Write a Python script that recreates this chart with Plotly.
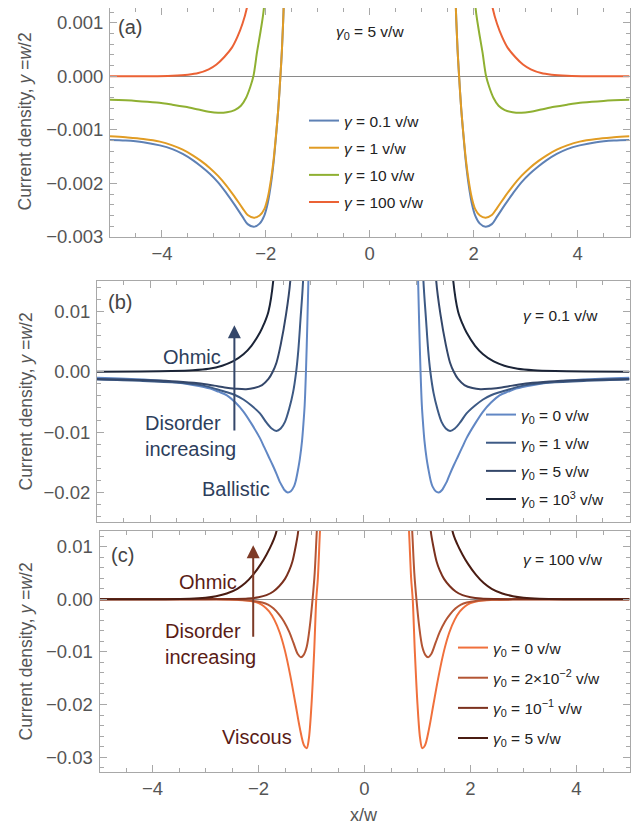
import plotly.graph_objects as go

# The page body adds an 8 px margin; the figure is sized so that it fills the 642x831 window.
PAGE_OFF = 8
W, H = 642 - PAGE_OFF, 831 - PAGE_OFF

# ---------------- Panel (a): gamma0 = 5 v/w (right half, curves are symmetric in x) ----------
a_names = ["<i>γ</i> = 0.1 v/w", "<i>γ</i> = 1 v/w", "<i>γ</i> = 10 v/w", "<i>γ</i> = 100 v/w"]
a_colors = ["#5e81b5", "#e19c24", "#8fb032", "#eb6235"]
a_x_g01 = [1.62, 1.66, 1.69, 1.72, 1.76, 1.80, 1.85, 1.90, 1.96, 2.03, 2.12, 2.23, 2.35, 2.45,
           2.60, 2.76, 2.92, 3.08, 3.25, 3.40, 3.60, 3.80, 4.04, 4.36, 4.70, 5.00]
a_y_g01 = [0.0025, 0.0012, 0.0005, 0.0, -0.0006, -0.00107, -0.0016, -0.0020, -0.00235, -0.0026,
           -0.00275, -0.00281, -0.00276, -0.00262, -0.00240, -0.00218, -0.00198, -0.00182,
           -0.00168, -0.00157, -0.00145, -0.00136, -0.00129, -0.00123, -0.00120, -0.00119]
a_x_g1 = [1.62, 1.66, 1.69, 1.72, 1.76, 1.80, 1.85, 1.90, 1.96, 2.03, 2.12, 2.23, 2.35, 2.45,
          2.60, 2.76, 2.92, 3.08, 3.25, 3.40, 3.60, 3.80, 4.04, 4.36, 4.70, 5.00]
a_y_g1 = [0.0025, 0.0012, 0.0005, 0.0, -0.0006, -0.00105, -0.00155, -0.00192, -0.00225, -0.00248,
          -0.00260, -0.00264, -0.00259, -0.00246, -0.00225, -0.00204, -0.00186, -0.00171,
          -0.00158, -0.00148, -0.00137, -0.00129, -0.00122, -0.00117, -0.00114, -0.00112]
a_x_g10 = [1.98, 2.04, 2.10, 2.17, 2.24, 2.30, 2.38, 2.48, 2.60, 2.75, 2.92, 3.10, 3.30, 3.55,
           3.80, 4.10, 4.50, 5.00]
a_y_g10 = [0.0022, 0.00125, 0.00085, 0.00045, 0.0, -0.0002, -0.0004, -0.00055, -0.00063, -0.00067,
           -0.00068, -0.00066, -0.00062, -0.00057, -0.00053, -0.00049, -0.00046, -0.00044]
a_x_g100 = [2.30, 2.36, 2.45, 2.55, 2.65, 2.80, 2.95, 3.10, 3.30, 3.50, 3.80, 4.20, 5.00]
a_y_g100 = [0.0017, 0.0013, 0.00098, 0.00073, 0.00054, 0.00036, 0.00022, 0.00013, 0.00006,
            0.00003, 0.00001, 0.0, 0.0]

# ---------------- Panel (b): gamma = 0.1 v/w --------------------------------------------------
b_names = ["<i>γ</i><sub>0</sub> = 0 v/w", "<i>γ</i><sub>0</sub> = 1 v/w",
           "<i>γ</i><sub>0</sub> = 5 v/w", "<i>γ</i><sub>0</sub> = 10<sup>3</sup> v/w"]
b_colors = ["#6187c4", "#3d5a85", "#34476a", "#1b2437"]
b_x_g0 = [1.00, 1.03, 1.05, 1.076, 1.10, 1.125, 1.15, 1.19, 1.22, 1.27, 1.30, 1.36, 1.42, 1.48,
          1.52, 1.57, 1.625, 1.70, 1.78, 1.86, 1.94, 2.10, 2.25, 2.40, 2.56, 2.72, 2.87, 3.2,
          3.5, 4.12, 5.0]
b_y_g0 = [0.025, 0.0151, 0.008, 0.0, -0.0055, -0.0088, -0.0115, -0.0144, -0.0160, -0.0182,
          -0.0190, -0.0198, -0.0200, -0.0196, -0.0190, -0.0182, -0.0170, -0.0155, -0.0140,
          -0.0125, -0.0110, -0.0086, -0.0066, -0.0051, -0.0039, -0.0033, -0.0028, -0.0022,
          -0.0018, -0.0013, -0.0010]
b_x_g1 = [1.10, 1.13, 1.18, 1.22, 1.26, 1.32, 1.39, 1.47, 1.55, 1.63, 1.72, 1.82, 1.94, 2.10,
          2.25, 2.40, 2.56, 2.75, 3.0, 3.5, 4.2, 5.0]
b_y_g1 = [0.025, 0.0151, 0.0085, 0.0035, 0.0, -0.0035, -0.0061, -0.0083, -0.0094, -0.0098,
          -0.0094, -0.0084, -0.0069, -0.0056, -0.0046, -0.0039, -0.0034, -0.0029, -0.0023,
          -0.0018, -0.0015, -0.0013]
b_x_g5 = [1.34, 1.37, 1.45, 1.55, 1.63, 1.70, 1.78, 1.90, 2.05, 2.20, 2.40, 2.60, 2.80, 3.1,
          3.5, 4.0, 5.0]
b_y_g5 = [0.022, 0.0151, 0.0095, 0.0045, 0.0015, 0.0, -0.0012, -0.0022, -0.0027, -0.0029,
          -0.0028, -0.0026, -0.0023, -0.0019, -0.0016, -0.0014, -0.0012]
b_x_g1000 = [1.66, 1.69, 1.78, 1.86, 1.94, 2.10, 2.25, 2.45, 2.65, 2.90, 3.20, 3.60, 4.20, 5.00]
b_y_g1000 = [0.020, 0.0151, 0.0100, 0.0080, 0.0065, 0.0043, 0.0029, 0.0017, 0.0010, 0.0005,
             0.00025, 0.00012, 0.00005, 0.00002]

# ---------------- Panel (c): gamma = 100 v/w --------------------------------------------------
c_names = ["<i>γ</i><sub>0</sub> = 0 v/w", "<i>γ</i><sub>0</sub> = 2×10<sup>−2</sup> v/w",
           "<i>γ</i><sub>0</sub> = 10<sup>−1</sup> v/w", "<i>γ</i><sub>0</sub> = 5 v/w"]
c_colors = ["#f0703c", "#b35534", "#7b311e", "#4a1c12"]
c_x_g0 = [0.80, 0.84, 0.88, 0.91, 0.95, 1.00, 1.05, 1.09, 1.14, 1.22, 1.30, 1.40, 1.50, 1.60,
          1.70, 1.80, 1.90, 2.00, 2.15, 2.40, 2.80, 5.00]
c_y_g0 = [0.020, 0.013, 0.004, 0.0, -0.010, -0.020, -0.0265, -0.0283, -0.0278, -0.0245,
          -0.0200, -0.0145, -0.0098, -0.0063, -0.0039, -0.0023, -0.0013, -0.0007, -0.0003,
          -0.0001, 0.0, 0.0]
c_x_g002 = [0.86, 0.90, 0.94, 0.98, 1.03, 1.09, 1.15, 1.20, 1.26, 1.34, 1.42, 1.52, 1.61, 1.72,
            1.82, 1.93, 2.10, 2.40, 2.80, 5.00]
c_y_g002 = [0.020, 0.013, 0.005, 0.0, -0.005, -0.0090, -0.0106, -0.0110, -0.0104, -0.0083,
            -0.0062, -0.0042, -0.0029, -0.0017, -0.0010, -0.0006, -0.0003, -0.0001, 0.0, 0.0]
c_x_g01 = [1.21, 1.25, 1.30, 1.36, 1.42, 1.50, 1.61, 1.72, 1.85, 2.00, 2.20, 2.50, 3.00, 5.00]
c_y_g01 = [0.020, 0.013, 0.0100, 0.0072, 0.0055, 0.0039, 0.0025, 0.0015, 0.0008, 0.0004,
           0.00015, 0.00005, 0.0, 0.0]
c_x_g5 = [1.62, 1.66, 1.75, 1.85, 1.95, 2.10, 2.25, 2.40, 2.60, 2.80, 3.00, 3.30, 3.80, 5.00]
c_y_g5 = [0.020, 0.013, 0.0105, 0.0085, 0.0068, 0.0047, 0.0031, 0.0020, 0.0011, 0.0006,
          0.0003, 0.0001, 0.00002, 0.0]

a_series = [(a_x_g01, a_y_g01), (a_x_g1, a_y_g1), (a_x_g10, a_y_g10), (a_x_g100, a_y_g100)]
b_series = [(b_x_g0, b_y_g0), (b_x_g1, b_y_g1), (b_x_g5, b_y_g5), (b_x_g1000, b_y_g1000)]
c_series = [(c_x_g0, c_y_g0), (c_x_g002, c_y_g002), (c_x_g01, c_y_g01), (c_x_g5, c_y_g5)]


def mirrored(xs, ys):
    """Full curve from the x>=0 half (curves are even in x); gap between the two branches."""
    x = [-v for v in reversed(xs)] + [None] + list(xs)
    y = list(reversed(ys)) + [None] + list(ys)
    return x, y


fig = go.Figure()
panels = [("x", "y", "legend", a_names, a_colors, a_series),
          ("x2", "y2", "legend2", b_names, b_colors, b_series),
          ("x3", "y3", "legend3", c_names, c_colors, c_series)]
for xa, ya, lg, names, colors, series in panels:
    for i, (name, col, (xs, ys)) in enumerate(zip(names, colors, series)):
        x, y = mirrored(xs, ys)
        fig.add_trace(go.Scatter(x=x, y=y, mode="lines", name=name, xaxis=xa, yaxis=ya,
                                 legend=lg, legendgroup=f"{lg}{i}",
                                 line=dict(color=col, width=2, shape="spline", smoothing=0.9),
                                 connectgaps=False, hoverinfo="skip"))

FRAME = "#a8a8a8"
FONT = "Liberation Sans, Arial, sans-serif"
TICKFONT = dict(family=FONT, size=18.5, color="#555555")


def xax(domain, labels, anchor):
    return dict(domain=domain, anchor=anchor, range=[-5, 5], tickvals=[-4, -2, 0, 2, 4],
                showticklabels=labels, automargin=False,
                ticks="inside", ticklen=7, tickcolor=FRAME, showline=True, linecolor=FRAME,
                linewidth=1, mirror="ticks", showgrid=False, zeroline=False, tickfont=TICKFONT,
                minor=dict(dtick=0.5, tick0=0, ticks="inside", ticklen=4, tickcolor=FRAME),
                ticklabelstandoff=0)


def yax(domain, rng, dtick, fmt, mdtick, anchor):
    return dict(domain=domain, anchor=anchor, range=rng, dtick=dtick, tick0=0, tickformat=fmt,
                automargin=False,
                ticks="inside", ticklen=7, tickcolor=FRAME, showline=True, linecolor=FRAME,
                linewidth=1, mirror="ticks", showgrid=False, zeroline=True,
                zerolinecolor="#8a8a8a", zerolinewidth=1, tickfont=TICKFONT,
                minor=dict(dtick=mdtick, tick0=0, ticks="inside", ticklen=4, tickcolor=FRAME),
                ticklabelstandoff=2)


def px2paper_x(px):
    """Window pixel (x) -> paper fraction, allowing for the page offset."""
    return min(1.0, max(0.0, (px - PAGE_OFF) / W))


def px2paper_y(py):
    return min(1.0, max(0.0, 1 - (py - PAGE_OFF) / H))


LEGFONT = dict(family=FONT, size=15.5, color="#222222")
legcommon = dict(xanchor="left", yanchor="top", bgcolor="rgba(0,0,0,0)", font=LEGFONT,
                 itemwidth=30, borderwidth=0)

fig.update_layout(
    template="none",
    width=W, height=H, margin=dict(l=0, r=0, t=0, b=0, pad=0, autoexpand=False),
    paper_bgcolor="white", plot_bgcolor="white",
    font=dict(family=FONT),
    xaxis=xax([px2paper_x(110), px2paper_x(629.5)], True, "y"),
    yaxis=yax([px2paper_y(237), px2paper_y(8)], [-0.003, 0.001275], 0.001, ".3f", 0.0002, "x"),
    xaxis2=xax([px2paper_x(97), px2paper_x(629.5)], False, "y2"),
    yaxis2=yax([px2paper_y(522), px2paper_y(281)], [-0.0249, 0.01504], 0.01, ".2f", 0.002, "x2"),
    xaxis3=xax([px2paper_x(99.5), px2paper_x(629.5)], True, "y3"),
    yaxis3=yax([px2paper_y(772), px2paper_y(531)], [-0.03284, 0.0130], 0.01, ".2f", 0.002, "x3"),
    legend=dict(x=px2paper_x(304), y=px2paper_y(104), tracegroupgap=4, **legcommon),
    legend2=dict(x=px2paper_x(481), y=px2paper_y(398), tracegroupgap=5, **legcommon),
    legend3=dict(x=px2paper_x(453), y=px2paper_y(631), tracegroupgap=7, **legcommon),
    showlegend=True,
)

ann = []
# panel labels & parameter notes
ann.append(dict(x=-4.62, y=0.00092, xref="x", yref="y", text="(a)", showarrow=False,
                font=dict(size=20, color="#444444", family=FONT)))
ann.append(dict(x=0.0, y=0.00081, xref="x", yref="y", text="<i>γ</i><sub>0</sub> = 5 v/w",
                showarrow=False, font=dict(size=15.5, color="#222222", family=FONT)))
ann.append(dict(x=-4.56, y=0.0116, xref="x2", yref="y2", text="(b)", showarrow=False,
                font=dict(size=20, color="#444444", family=FONT)))
ann.append(dict(x=3.71, y=0.0094, xref="x2", yref="y2", text="<i>γ</i> = 0.1 v/w",
                showarrow=False, font=dict(size=15.5, color="#222222", family=FONT)))
ann.append(dict(x=-4.56, y=0.0084, xref="x3", yref="y3", text="(c)", showarrow=False,
                font=dict(size=20, color="#444444", family=FONT)))
ann.append(dict(x=3.75, y=0.0075, xref="x3", yref="y3", text="<i>γ</i> = 100 v/w",
                showarrow=False, font=dict(size=15.5, color="#222222", family=FONT)))

# regime labels panel (b)
BC = "#2d3e5c"
ann.append(dict(x=-3.21, y=0.0024, xref="x2", yref="y2", text="Ohmic", showarrow=False,
                font=dict(size=20, color=BC, family=FONT)))
ann.append(dict(x=-4.13, y=-0.0106, xref="x2", yref="y2", text="Disorder<br>increasing",
                showarrow=False, xanchor="left", align="left",
                font=dict(size=20, color=BC, family=FONT)))
ann.append(dict(x=-2.39, y=-0.0195, xref="x2", yref="y2", text="Ballistic", showarrow=False,
                font=dict(size=20, color=BC, family=FONT)))
ann.append(dict(x=-2.42, y=0.0077, xref="x2", yref="y2", ax=-2.42, ay=-0.0100, axref="x2",
                ayref="y2", text="", showarrow=True, arrowhead=2, arrowsize=1.3, arrowwidth=2,
                arrowcolor="#34476a"))
# regime labels panel (c)
CC = "#5a1c16"
ann.append(dict(x=-2.96, y=0.00335, xref="x3", yref="y3", text="Ohmic", showarrow=False,
                font=dict(size=20, color=CC, family=FONT)))
ann.append(dict(x=-3.80, y=-0.0084, xref="x3", yref="y3", text="Disorder<br>increasing",
                showarrow=False, xanchor="left", align="left",
                font=dict(size=20, color=CC, family=FONT)))
ann.append(dict(x=-2.03, y=-0.0262, xref="x3", yref="y3", text="Viscous", showarrow=False,
                font=dict(size=20, color=CC, family=FONT)))
ann.append(dict(x=-2.10, y=0.0103, xref="x3", yref="y3", ax=-2.10, ay=-0.0074, axref="x3",
                ayref="y3", text="", showarrow=True, arrowhead=2, arrowsize=1.3, arrowwidth=2,
                arrowcolor="#7d3a26"))

# axis titles
YT = "Current density, <i>y</i> =<i>w</i>/2"
for cy in (121.5, 401.5, 651.5):
    ann.append(dict(x=px2paper_x(25), y=px2paper_y(cy), xref="paper", yref="paper", text=YT,
                    textangle=-90, showarrow=False, xanchor="center", yanchor="middle",
                    font=dict(size=17.5, color="#555555", family=FONT)))
ann.append(dict(x=px2paper_x(364), y=px2paper_y(815), xref="paper", yref="paper", text="x/w",
                showarrow=False, xanchor="center", yanchor="middle",
                font=dict(size=18, color="#555555", family=FONT)))

fig.update_layout(annotations=ann)
fig.write_html("out.html")
